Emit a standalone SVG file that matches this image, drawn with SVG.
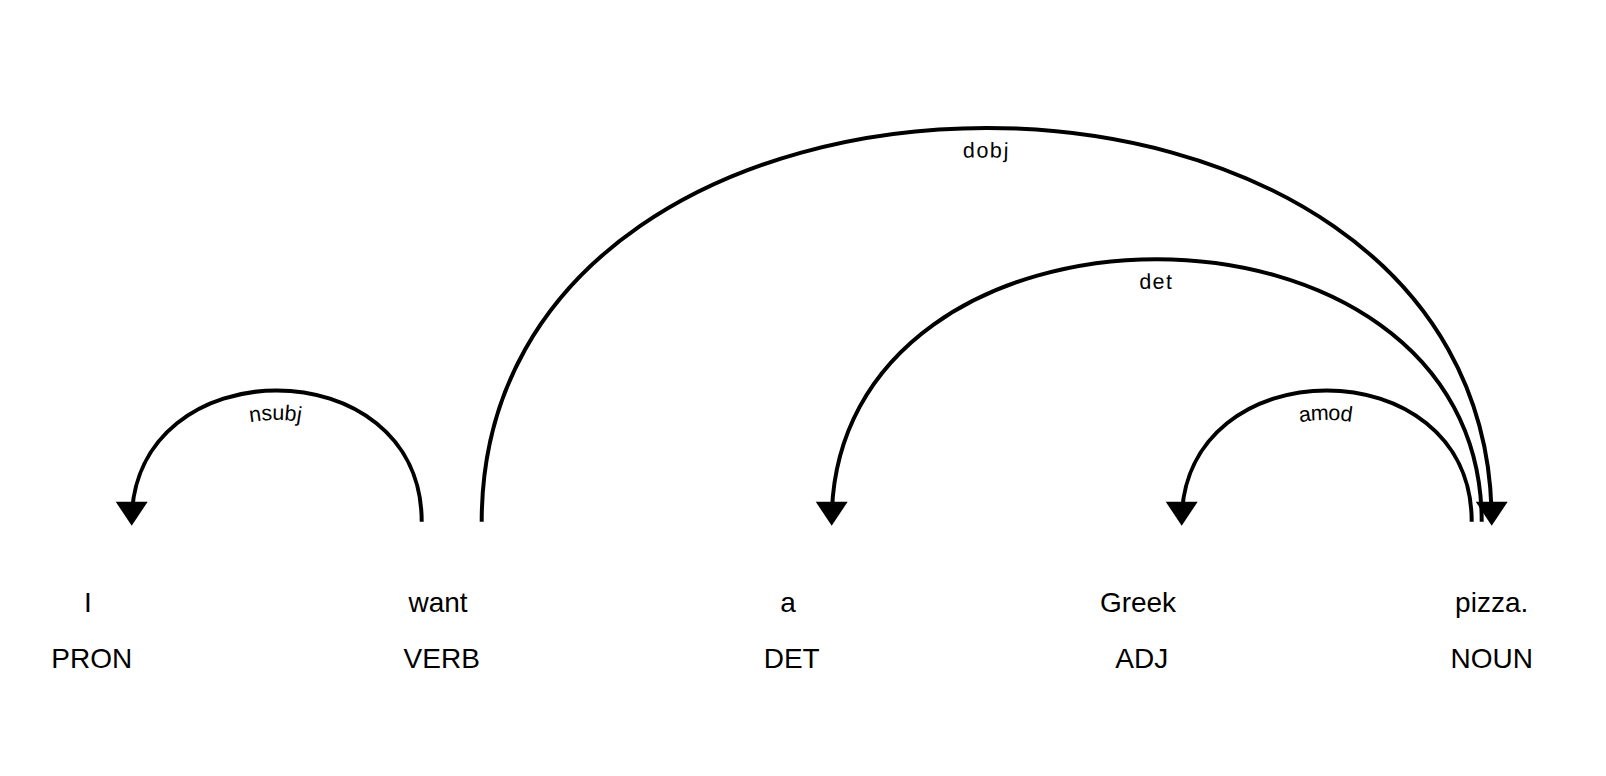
<svg xmlns="http://www.w3.org/2000/svg" xmlns:xlink="http://www.w3.org/1999/xlink" width="1606" height="776" viewBox="0 0 1606 776">
<style>
.tok { font-family: "Liberation Sans", Arial, sans-serif; font-size: 28px; fill: #000; text-anchor: middle; }
.arc { fill: none; stroke: #000; stroke-width: 4px; }
.head { fill: #000; }
.lbl { font-family: "Liberation Sans", Arial, sans-serif; font-size: 21.5px; letter-spacing: 2px; fill: #000; }
</style>
<rect x="0" y="0" width="1606" height="776" fill="#fff"/>
<g id="word-0"><text class="tok" x="88" y="612">I</text><text class="tok" x="91.7" y="668">PRON</text></g>
<g id="word-1"><text class="tok" x="438" y="612">want</text><text class="tok" x="441.7" y="668">VERB</text></g>
<g id="word-2"><text class="tok" x="788" y="612">a</text><text class="tok" x="791.7" y="668">DET</text></g>
<g id="word-3"><text class="tok" x="1138" y="612">Greek</text><text class="tok" x="1141.7" y="668">ADJ</text></g>
<g id="word-4"><text class="tok" x="1491.7" y="612">pizza.</text><text class="tok" x="1491.7" y="668">NOUN</text></g>
<g id="connectors">
  <g id="arc-nsubj">
    <path id="p0" class="arc" d="M131.7,521.7 C131.7,346.7 421.7,346.7 421.7,521.7"/>
    <text class="lbl" dy="29.5"><textPath xlink:href="#p0" href="#p0" startOffset="50%" text-anchor="middle">nsubj</textPath></text>
    <path class="head" d="M131.7,525.7 L115.7,501.7 147.7,501.7 Z"/>
  </g>
  <g id="arc-dobj">
    <path id="p1" class="arc" d="M481.7,521.7 C481.7,-3.3 1491.7,-3.3 1491.7,521.7"/>
    <text class="lbl" dy="29.5"><textPath xlink:href="#p1" href="#p1" startOffset="50%" text-anchor="middle">dobj</textPath></text>
    <path class="head" d="M1491.7,525.7 L1507.7,501.7 1475.7,501.7 Z"/>
  </g>
  <g id="arc-det">
    <path id="p2" class="arc" d="M831.7,521.7 C831.7,171.7 1481.7,171.7 1481.7,521.7"/>
    <text class="lbl" dy="29.5"><textPath xlink:href="#p2" href="#p2" startOffset="50%" text-anchor="middle">det</textPath></text>
    <path class="head" d="M831.7,525.7 L815.7,501.7 847.7,501.7 Z"/>
  </g>
  <g id="arc-amod">
    <path id="p3" class="arc" d="M1181.7,521.7 C1181.7,346.7 1471.7,346.7 1471.7,521.7"/>
    <text class="lbl" dy="29.5"><textPath xlink:href="#p3" href="#p3" startOffset="50%" text-anchor="middle">amod</textPath></text>
    <path class="head" d="M1181.7,525.7 L1165.7,501.7 1197.7,501.7 Z"/>
  </g>
</g>
</svg>
